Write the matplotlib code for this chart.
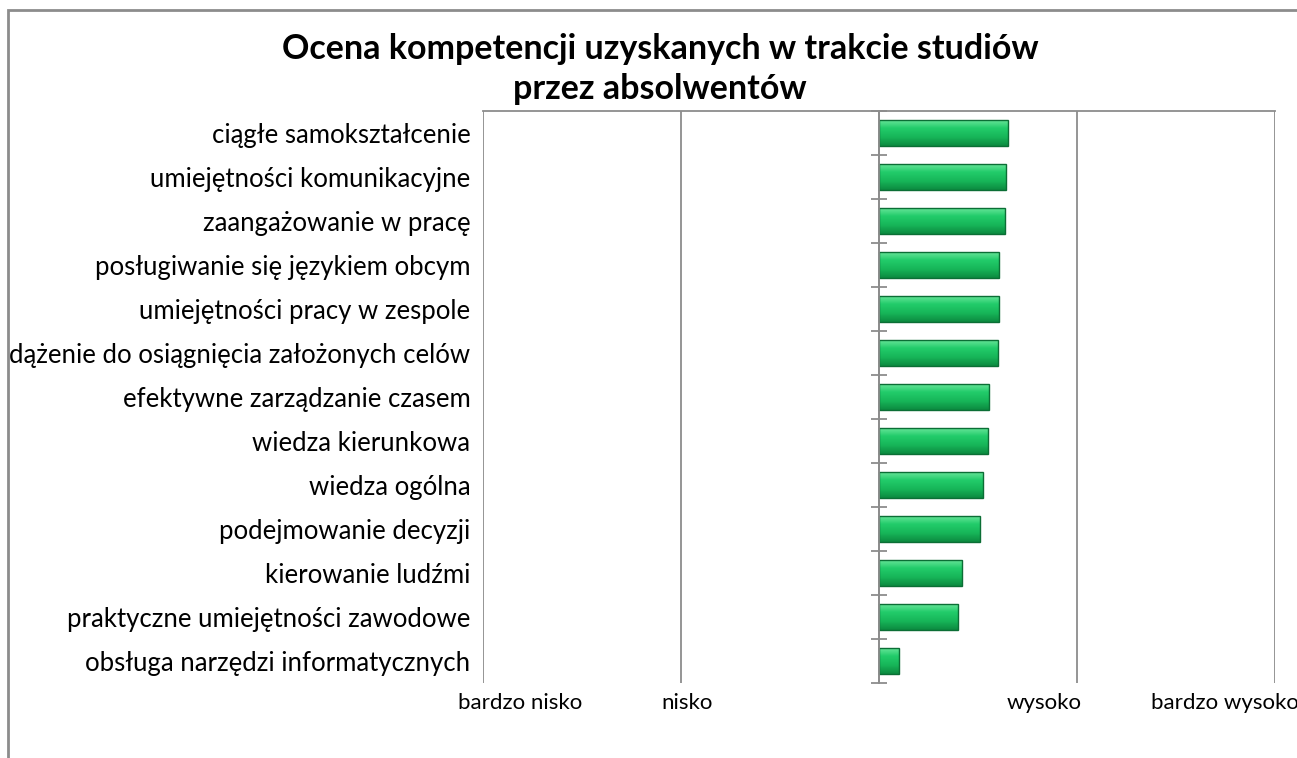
import numpy as np
import matplotlib
matplotlib.use("Agg")
import matplotlib.pyplot as plt
import matplotlib.transforms as mtransforms
from matplotlib.patches import Rectangle
from matplotlib.colors import LinearSegmentedColormap

## data
categories = [
    "ciągłe samokształcenie",
    "umiejętności komunikacyjne",
    "zaangażowanie w pracę",
    "posługiwanie się językiem obcym",
    "umiejętności pracy w zespole",
    "dążenie do osiągnięcia założonych celów",
    "efektywne zarządzanie czasem",
    "wiedza kierunkowa",
    "wiedza ogólna",
    "podejmowanie decyzji",
    "kierowanie ludźmi",
    "praktyczne umiejętności zawodowe",
    "obsługa narzędzi informatycznych",
]
values = [0.65, 0.64, 0.635, 0.605, 0.605, 0.60, 0.555, 0.55, 0.525, 0.51, 0.42, 0.40, 0.10]
scale_ticks = [-2, -1, 0, 1, 2]
scale_labels = ["bardzo nisko", "nisko", "", "wysoko", "bardzo wysoko"]

plt.rcParams['font.family'] = ['Lato', 'DejaVu Sans']
grey = "#8c8c8c"

fig = plt.figure(figsize=(12.97, 7.58), dpi=100)
ax = fig.add_axes([483/1297, 1-683/758, (1275-483)/1297, (683-111)/758])

# chart border (right and bottom edges fall outside the picture)
fig.patches.append(Rectangle((8/1297, -0.1), 1.2, (758-10)/758 + 0.1, transform=fig.transFigure,
                             fill=False, edgecolor=grey, linewidth=2))

y = np.arange(len(categories))
bar_h = 0.6
cmap = LinearSegmentedColormap.from_list("g", ["#6ee89e", "#22cc6a", "#17b659", "#0c8a40"])
grad = np.linspace(0, 1, 64).reshape(-1, 1)
for yi, v in zip(y, values):
    r = Rectangle((0, yi - bar_h/2), v, bar_h, facecolor="#1cbf5e", edgecolor="none", zorder=3)
    ax.add_patch(r)
    im = ax.imshow(grad, cmap=cmap, aspect='auto', extent=(0, v, yi + bar_h/2, yi - bar_h/2),
                   zorder=3.5, interpolation='bilinear')
    im.set_clip_path(r)
    ax.add_patch(Rectangle((0, yi - bar_h/2), v, bar_h, fill=False, edgecolor="#0b6e35",
                           linewidth=1, zorder=4))

ax.set_xlim(-2, 2)
ax.set_ylim(len(categories) - 0.5, -0.5)

ax.set_xticks(scale_ticks)
ax.set_xticklabels(scale_labels)
ax.tick_params(axis='x', length=0, pad=7, labelsize=16)
# Excel nudges these labels sideways
shifts = [37, 6, 0, -33, -50]
for lab, dx in zip(ax.get_xticklabels(), shifts):
    lab.set_transform(lab.get_transform() + mtransforms.ScaledTranslation(dx/100, 0, fig.dpi_scale_trans))
ax.grid(axis='x', color=grey, linewidth=1.3)
ax.set_axisbelow(True)

ax.set_yticks(y)
ax.set_yticklabels(categories)
ax.set_yticks(np.arange(len(categories) + 1) - 0.5, minor=True)
ax.tick_params(axis='y', which='major', left=True, right=False, length=0, pad=9, labelsize=18.5)
ax.tick_params(axis='y', which='minor', left=False, right=True, direction='inout', length=12,
               color=grey, width=1.3)

for s in ['left', 'bottom']:
    ax.spines[s].set_visible(False)
ax.spines['top'].set_color(grey)
ax.spines['top'].set_linewidth(1.3)
ax.spines['right'].set_position(('data', 0))
ax.spines['right'].set_color(grey)
ax.spines['right'].set_linewidth(1.3)
ax.spines['right'].set_zorder(5)

fig.text(660/1297, 1-49/758, "Ocena kompetencji uzyskanych w trakcie studiów", ha='center', va='center',
         fontsize=24.5, fontweight='bold')
fig.text(660/1297, 1-89/758, "przez absolwentów", ha='center', va='center',
         fontsize=24.5, fontweight='bold')

fig.savefig("out.png", dpi=100)
